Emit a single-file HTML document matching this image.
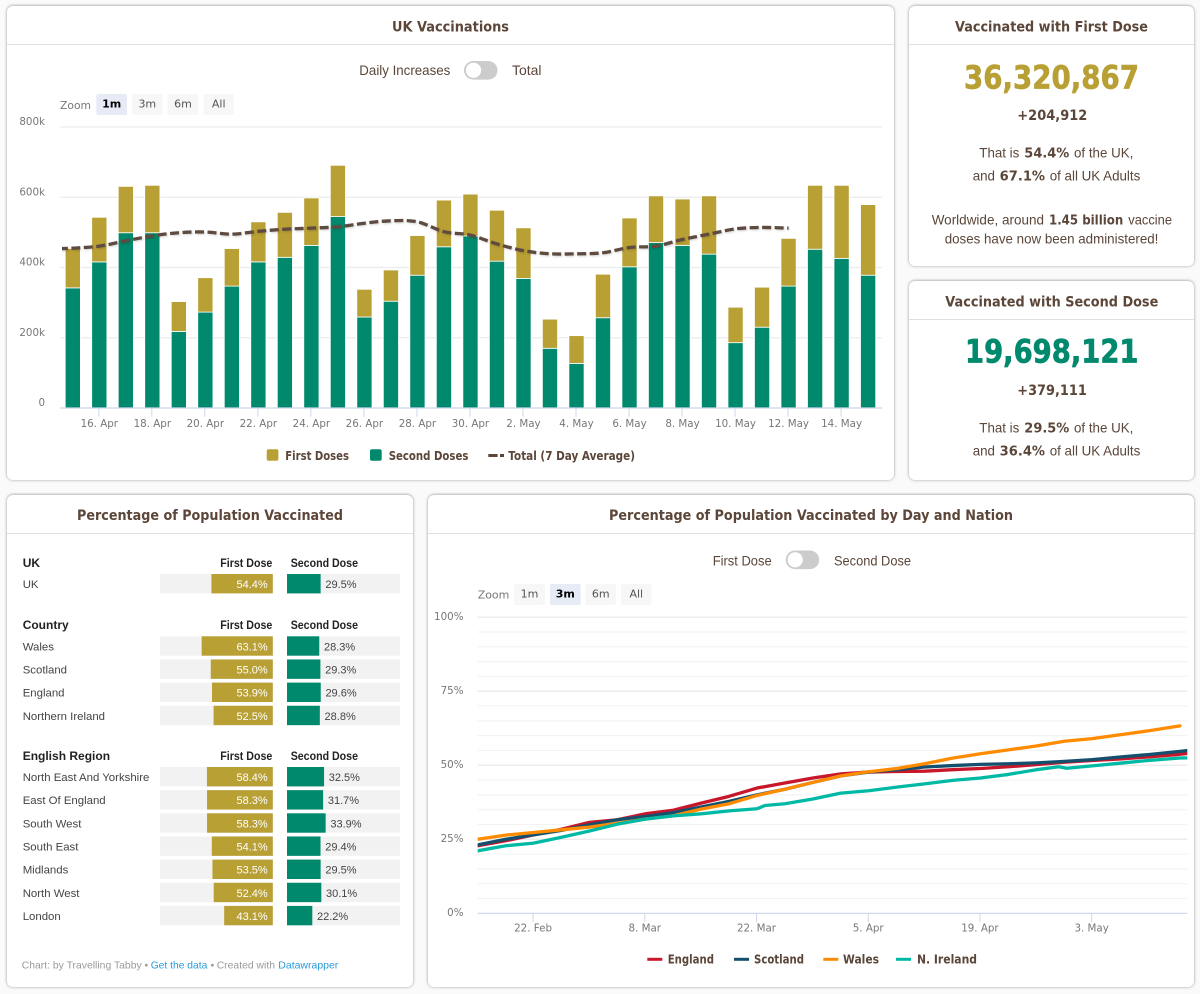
<!DOCTYPE html>
<html lang="en">
<head>
<meta charset="utf-8">
<title>UK Vaccinations Dashboard</title>
<style>
html,body{margin:0;padding:0;background:#fafafa;}
body{width:1200px;height:994px;position:relative;overflow:hidden;font-family:"Liberation Sans",sans-serif;}
.card{position:absolute;background:#fff;border-radius:6px;box-shadow:0 0 3px rgba(0,0,0,.32),0 -1px 2px rgba(0,0,0,.1);box-sizing:border-box;}
.head{position:absolute;left:0;right:0;height:1px;background:#e0e0e0;}
#page{position:absolute;left:0;top:0;}
.t{font-family:"DejaVu Sans",sans-serif;font-weight:bold;fill:#5b4639;font-size:14px;}
.r{font-family:"Liberation Sans",sans-serif;fill:#5b4639;font-size:14px;}
.b{font-family:"DejaVu Sans",sans-serif;font-weight:bold;fill:#5b4639;font-size:13px;}
.lg{font-family:"DejaVu Sans",sans-serif;font-weight:bold;fill:#5b4639;font-size:12px;}
.ax{font-family:"DejaVu Sans",sans-serif;fill:#777;font-size:10.3px;}
.zb{font-family:"DejaVu Sans",sans-serif;fill:#555;font-size:11px;text-anchor:middle;}
.tb{font-family:"Liberation Sans",sans-serif;font-size:12px;}
.nm{font-size:11.4px;}
</style>
</head>
<body>
<div class="card" style="left:7px;top:6px;width:887px;height:474px"><div class="head" style="top:38px"></div></div>
<div class="card" style="left:909px;top:6px;width:285px;height:260px"><div class="head" style="top:38px"></div></div>
<div class="card" style="left:909px;top:281px;width:285px;height:199px"><div class="head" style="top:38px"></div></div>
<div class="card" style="left:7px;top:495px;width:406px;height:492px"><div class="head" style="top:38px"></div></div>
<div class="card" style="left:428px;top:495px;width:766px;height:492px"><div class="head" style="top:38px"></div></div>

<svg id="page" width="1200" height="994" viewBox="0 0 1200 994" xmlns="http://www.w3.org/2000/svg">
<defs>
<clipPath id="avgClip"><rect x="62" y="120" width="820" height="290"/></clipPath>
<clipPath id="trendClip"><rect x="477.7" y="600" width="709.6" height="320"/></clipPath>
</defs>

<!-- Card titles -->
<text class="t" x="392" y="31.5" textLength="117" lengthAdjust="spacingAndGlyphs">UK Vaccinations</text>
<text class="t" x="955" y="31.5" textLength="193" lengthAdjust="spacingAndGlyphs">Vaccinated with First Dose</text>
<text class="t" x="945.3" y="306.3" textLength="213" lengthAdjust="spacingAndGlyphs">Vaccinated with Second Dose</text>
<text class="t" x="77" y="520" textLength="266" lengthAdjust="spacingAndGlyphs">Percentage of Population Vaccinated</text>
<text class="t" x="609" y="520" textLength="404" lengthAdjust="spacingAndGlyphs">Percentage of Population Vaccinated by Day and Nation</text>

<!-- First dose stats -->
<text x="964" y="88.3" textLength="175" lengthAdjust="spacingAndGlyphs" style="font:bold 32px 'DejaVu Sans',sans-serif;fill:#b9a035;stroke:#b9a035;stroke-width:.7">36,320,867</text>
<text class="b" x="1017.3" y="120" textLength="70" lengthAdjust="spacingAndGlyphs" style="font-size:14px">+204,912</text>
<g>
<text class="r" x="979.3" y="157.3" textLength="40" lengthAdjust="spacingAndGlyphs">That is</text>
<text class="b" x="1024.3" y="157.3" textLength="45" lengthAdjust="spacingAndGlyphs">54.4%</text>
<text class="r" x="1074" y="157.3" textLength="59.3" lengthAdjust="spacingAndGlyphs">of the UK,</text>
</g>
<g>
<text class="r" x="972.7" y="180.3" textLength="22.3" lengthAdjust="spacingAndGlyphs">and</text>
<text class="b" x="999.7" y="180.3" textLength="45.3" lengthAdjust="spacingAndGlyphs">67.1%</text>
<text class="r" x="1049.7" y="180.3" textLength="90.6" lengthAdjust="spacingAndGlyphs">of all UK Adults</text>
</g>
<g>
<text class="r" x="931.7" y="224.3" textLength="112.3" lengthAdjust="spacingAndGlyphs">Worldwide, around</text>
<text class="b" x="1049" y="224.3" textLength="74.3" lengthAdjust="spacingAndGlyphs">1.45 billion</text>
<text class="r" x="1128.3" y="224.3" textLength="43.7" lengthAdjust="spacingAndGlyphs">vaccine</text>
<text class="r" x="944.7" y="243.3" textLength="213.7" lengthAdjust="spacingAndGlyphs">doses have now been administered!</text>
</g>

<!-- Second dose stats -->
<text x="965" y="362.7" textLength="173.5" lengthAdjust="spacingAndGlyphs" style="font:bold 32px 'DejaVu Sans',sans-serif;fill:#00896c;stroke:#00896c;stroke-width:.7">19,698,121</text>
<text class="b" x="1017.3" y="395" textLength="69.5" lengthAdjust="spacingAndGlyphs" style="font-size:14px">+379,111</text>
<g>
<text class="r" x="979.3" y="432.3" textLength="40" lengthAdjust="spacingAndGlyphs">That is</text>
<text class="b" x="1024.3" y="432.3" textLength="45" lengthAdjust="spacingAndGlyphs">29.5%</text>
<text class="r" x="1074" y="432.3" textLength="59.3" lengthAdjust="spacingAndGlyphs">of the UK,</text>
</g>
<g>
<text class="r" x="972.7" y="455.3" textLength="22.3" lengthAdjust="spacingAndGlyphs">and</text>
<text class="b" x="999.7" y="455.3" textLength="45.3" lengthAdjust="spacingAndGlyphs">36.4%</text>
<text class="r" x="1049.7" y="455.3" textLength="90.6" lengthAdjust="spacingAndGlyphs">of all UK Adults</text>
</g>

<!-- Top toggle -->
<text class="r" x="359.3" y="75" textLength="91" lengthAdjust="spacingAndGlyphs">Daily Increases</text>
<g>
<rect x="464" y="61" width="33.5" height="18.6" rx="9.3" fill="#ccc"/>
<circle cx="473.5" cy="70.3" r="7.6" fill="#fff"/>
</g>
<text class="r" x="512" y="75" textLength="29.5" lengthAdjust="spacingAndGlyphs">Total</text>

<!-- Top zoom controls -->
<text class="ax" x="60" y="109" textLength="31" lengthAdjust="spacingAndGlyphs" style="font-size:11px">Zoom</text>
<g><rect x="96.3" y="94" width="30.7" height="21" rx="2" fill="#e6ebf5"/><text class="zb" x="111.7" y="107.5" style="font-weight:bold;fill:#000">1m</text></g>
<g><rect x="132" y="94" width="30.7" height="21" rx="2" fill="#f7f7f7"/><text class="zb" x="147.3" y="107.5">3m</text></g>
<g><rect x="167.7" y="94" width="30.7" height="21" rx="2" fill="#f7f7f7"/><text class="zb" x="183" y="107.5">6m</text></g>
<g><rect x="203.3" y="94" width="30.7" height="21" rx="2" fill="#f7f7f7"/><text class="zb" x="218.7" y="107.5">All</text></g>

<g id="barChart"></g>

<!-- Top legend -->
<g><rect x="266.7" y="449.3" width="11.7" height="11.4" rx="2" fill="#b9a035"/><text class="lg" x="285.3" y="460" textLength="63.7" lengthAdjust="spacingAndGlyphs">First Doses</text></g>
<g><rect x="370" y="449.3" width="11.7" height="11.4" rx="2" fill="#00896c"/><text class="lg" x="388.7" y="460" textLength="79.7" lengthAdjust="spacingAndGlyphs">Second Doses</text></g>
<g><line x1="488.3" y1="455.5" x2="504" y2="455.5" stroke="#5b4639" stroke-width="3" stroke-dasharray="9.3 2.4"/><text class="lg" x="508.3" y="460" textLength="126.7" lengthAdjust="spacingAndGlyphs">Total (7 Day Average)</text></g>

<g id="table"></g>

<!-- Table footer -->
<g style="font:10.5px 'Liberation Sans',sans-serif">
<text x="21.7" y="968.7" fill="#9a9a9a" textLength="120" lengthAdjust="spacingAndGlyphs">Chart: by Travelling Tabby</text>
<text x="144.5" y="968.7" fill="#9a9a9a">•</text>
<text x="150.7" y="968.7" fill="#2a9bd8" textLength="56.6" lengthAdjust="spacingAndGlyphs">Get the data</text>
<text x="210.5" y="968.7" fill="#9a9a9a">•</text>
<text x="216.7" y="968.7" fill="#9a9a9a" textLength="58.3" lengthAdjust="spacingAndGlyphs">Created with</text>
<text x="278.3" y="968.7" fill="#2a9bd8" textLength="60" lengthAdjust="spacingAndGlyphs">Datawrapper</text>
</g>

<!-- Bottom toggle -->
<text class="r" x="712.7" y="565.7" textLength="59" lengthAdjust="spacingAndGlyphs">First Dose</text>
<g>
<rect x="785.7" y="550.5" width="33.5" height="18.6" rx="9.3" fill="#ccc"/>
<circle cx="795.2" cy="559.8" r="7.6" fill="#fff"/>
</g>
<text class="r" x="834" y="565.7" textLength="77" lengthAdjust="spacingAndGlyphs">Second Dose</text>

<!-- Bottom zoom controls -->
<text class="ax" x="477.7" y="598.3" textLength="31.6" lengthAdjust="spacingAndGlyphs" style="font-size:11px">Zoom</text>
<g><rect x="514" y="584" width="31" height="21" rx="2" fill="#f7f7f7"/><text class="zb" x="529.5" y="597.5">1m</text></g>
<g><rect x="550" y="584" width="30.7" height="21" rx="2" fill="#e6ebf5"/><text class="zb" x="565.3" y="597.5" style="font-weight:bold;fill:#000">3m</text></g>
<g><rect x="585.3" y="584" width="30.7" height="21" rx="2" fill="#f7f7f7"/><text class="zb" x="600.7" y="597.5">6m</text></g>
<g><rect x="621" y="584" width="30.7" height="21" rx="2" fill="#f7f7f7"/><text class="zb" x="636.3" y="597.5">All</text></g>

<g id="trendChart"></g>

<!-- Bottom legend -->
<g><line x1="647.3" y1="959.3" x2="662.3" y2="959.3" stroke="#c8172b" stroke-width="3"/><text class="lg" x="667.7" y="963.3" textLength="46.3" lengthAdjust="spacingAndGlyphs">England</text></g>
<g><line x1="734" y1="959.3" x2="749" y2="959.3" stroke="#14506e" stroke-width="3"/><text class="lg" x="754" y="963.3" textLength="50" lengthAdjust="spacingAndGlyphs">Scotland</text></g>
<g><line x1="823.3" y1="959.3" x2="838.3" y2="959.3" stroke="#ff8c00" stroke-width="3"/><text class="lg" x="843" y="963.3" textLength="36" lengthAdjust="spacingAndGlyphs">Wales</text></g>
<g><line x1="896" y1="959.3" x2="911" y2="959.3" stroke="#00b9a5" stroke-width="3"/><text class="lg" x="917" y="963.3" textLength="60" lengthAdjust="spacingAndGlyphs">N. Ireland</text></g>
</svg>

<script>
// ---- Daily vaccinations chart data (thousands of doses) ----
const barDates = ['15. Apr','16. Apr','17. Apr','18. Apr','19. Apr','20. Apr','21. Apr','22. Apr','23. Apr','24. Apr','25. Apr','26. Apr','27. Apr','28. Apr','29. Apr','30. Apr','1. May','2. May','3. May','4. May','5. May','6. May','7. May','8. May','9. May','10. May','11. May','12. May','13. May','14. May','15. May'];
const secondDoses = [342,416,499,499,218,273,347,416,429,463,545,259,304,378,459,490,418,369,170,127,257,402,471,463,438,186,230,347,452,426,378];
const firstDoses = [112,127,132,135,85,98,107,114,128,135,146,79,89,113,133,119,145,144,83,79,124,139,133,132,166,101,114,136,182,208,201];
const averageDates = ['14. Apr','15. Apr','16. Apr','17. Apr','18. Apr','19. Apr','20. Apr','21. Apr','22. Apr','23. Apr','24. Apr','25. Apr','26. Apr','27. Apr','28. Apr','29. Apr','30. Apr','1. May','2. May','3. May','4. May','5. May','6. May','7. May','8. May','9. May','10. May','11. May','12. May'];
const averageTotals = [453,455,461,476,490,499,501,495,503,509,512,516,526,533,530,502,492,467,448,439,439,442,457,461,480,495,510,514,512];
const barTickLabels = ['16. Apr','18. Apr','20. Apr','22. Apr','24. Apr','26. Apr','28. Apr','30. Apr','2. May','4. May','6. May','8. May','10. May','12. May','14. May'];
const barYTicks = [0,200,400,600,800];

// ---- Population table data (percent) ----
const sectionTitles = ['UK','Country','English Region'];
const sectionRows = [['UK'],['Wales','Scotland','England','Northern Ireland'],['North East And Yorkshire','East Of England','South West','South East','Midlands','North West','London']];
const sectionFirst = [[54.4],[63.1,55.0,53.9,52.5],[58.4,58.3,58.3,54.1,53.5,52.4,43.1]];
const sectionSecond = [[29.5],[28.3,29.3,29.6,28.8],[32.5,31.7,33.9,29.4,29.5,30.1,22.2]];

// ---- Nation trend data (days since 15 Feb, percent vaccinated) ----
const trendDays = [0,3.5,7,10.5,14,17.5,21,24.5,28,31.5,35,38.5,42,45.5,49,52.5,56,59.5,63,66.5,70,73.5,77,80.5,84,88,89];
const englandValues = [22.8,24.5,26.5,28.4,30.7,31.6,33.6,34.8,37.2,39.5,42.3,44.0,45.7,47.1,47.7,47.9,48.0,48.5,48.9,49.5,50.2,51.0,51.6,52.1,52.8,53.7,54.0];
const scotlandValues = [23.1,25,26.5,28,29.9,31.6,32.7,34,35.9,37.8,40,41.9,44.2,46.4,47.7,48.5,49.4,49.9,50.3,50.5,50.8,51.3,51.9,52.8,53.6,54.7,55.0];
const walesValues = [25,26.4,27.3,28.2,29.1,30.4,31.8,32.9,35.2,37,39.8,41.9,44.2,46.4,47.8,48.9,50.5,52.4,53.9,55.2,56.5,58.1,59,60.3,61.6,63.3];
const irelandDays = [0,3.5,7,10.5,14,17.5,21,24.5,28,31.5,35,36,38.5,42,45.5,49,52.5,56,59.5,63,66.5,70,72.8,73.8,77,80.5,84,88,89];
const irelandValues = [21.1,22.8,23.7,25.7,27.8,30.1,31.8,32.9,33.6,34.6,35.3,36.4,37,38.6,40.6,41.4,42.6,43.7,44.9,45.7,46.9,48.5,49.5,49.0,49.8,50.7,51.6,52.45,52.5];
const trendTickDays = [7,21,35,49,63,77];
const trendTickLabels = ['22. Feb','8. Mar','22. Mar','5. Apr','19. Apr','3. May'];
const trendYLabels = [0,25,50,75,100];

const NS = 'http://www.w3.org/2000/svg';
function mk(tag, attrs, parent, txt) {
  const el = document.createElementNS(NS, tag);
  for (const k in attrs) el.setAttribute(k, attrs[k]);
  if (txt !== undefined) el.textContent = txt;
  parent.appendChild(el);
  return el;
}

// ---- Axis functions ----
const xBar = i => 72.8 + i * 26.51;
const yBar = v => 408 - v * 281 / 800;
const xTrend = d => 477.7 + d * 7.98;
const yTrend = p => 913.3 - p * 2.961;

// ---- Bar chart ----
(function () {
  const g = document.getElementById('barChart');
  barYTicks.forEach(t => {
    if (t > 0) {
      const grid = mk('line', {x1:60, x2:882, y1:yBar(t), y2:yBar(t), stroke:'#ececec', 'stroke-width':1.2}, g);
      
      
    }
    const lab = mk('text', {class:'ax', x:45, y:yBar(t)-2, 'text-anchor':'end'}, g, t === 0 ? '0' : t + 'k');
    
    
  });
  barTickLabels.forEach(l => {
    const x = xBar(barDates.indexOf(l)) - 0.5;
    const tick = mk('line', {x1:x, x2:x, y1:408, y2:416.7, stroke:'#ccd6eb', 'stroke-width':1}, g);
    
    
    const lab = mk('text', {class:'ax', x:x+0.5, y:427, 'text-anchor':'middle'}, g, l);
    
    
  });
  barDates.forEach((d, i) => {
    const x = xBar(i) - 7.6;
    const g2 = yBar(secondDoses[i]);
    const g1 = yBar(secondDoses[i] + firstDoses[i]);
    const s = mk('rect', {x:x, y:g2, width:15.2, height:408-g2, fill:'#00896c', stroke:'#fff', 'stroke-width':0.8}, g);
    
    
    const f = mk('rect', {x:x, y:g1, width:15.2, height:g2-g1, fill:'#b9a035', stroke:'#fff', 'stroke-width':0.8}, g);
    
    
  });
  const axis = mk('line', {x1:60, x2:882, y1:408, y2:408, stroke:'#ccd6eb', 'stroke-width':1.2}, g);
  
  

  // Smoothed average line
  const pts = averageTotals.map((v, i) => [xBar(i - 1), yBar(v)]);
  let d = 'M' + pts[0][0] + ' ' + pts[0][1];
  for (let i = 0; i < pts.length - 1; i++) {
    const p0 = pts[Math.max(i-1,0)], p1 = pts[i], p2 = pts[i+1], p3 = pts[Math.min(i+2,pts.length-1)];
    const c1x = p1[0] + (p2[0]-p0[0])/6, c1y = p1[1] + (p2[1]-p0[1])/6;
    const c2x = p2[0] - (p3[0]-p1[0])/6, c2y = p2[1] - (p3[1]-p1[1])/6;
    d += ' C' + c1x + ' ' + c1y + ' ' + c2x + ' ' + c2y + ' ' + p2[0] + ' ' + p2[1];
  }
  const wrap = mk('g', {'clip-path':'url(#avgClip)'}, g);
  
  
  const line = mk('path', {d:d, fill:'none', stroke:'#5f4a40', 'stroke-width':3.3, 'stroke-dasharray':'9 3.5', style:'filter:drop-shadow(1px 1px 1px rgba(0,0,0,.18))'}, wrap);
  
  
})();

// ---- Population table ----
(function () {
  const g = document.getElementById('table');
  const sectionTop = [574, 636.3, 767];
  const pitch = 23.15;
  const rowH = 19.4;
  sectionTitles.forEach((title, s) => {
    const base = sectionTop[s] - 7.2;
    const h1 = mk('text', {class:'tb', x:22.7, y:base, 'font-weight':'bold', fill:'#222'}, g, title);
    
    
    const h2 = mk('text', {class:'tb', x:220.3, y:base, 'font-weight':'bold', fill:'#222', textLength:52, lengthAdjust:'spacingAndGlyphs'}, g, 'First Dose');
    
    
    const h3 = mk('text', {class:'tb', x:290.7, y:base, 'font-weight':'bold', fill:'#222', textLength:67.3, lengthAdjust:'spacingAndGlyphs'}, g, 'Second Dose');
    
    
    sectionRows[s].forEach((name, i) => {
      const top = sectionTop[s] + i * pitch;
      const a = sectionFirst[s][i], b = sectionSecond[s][i];
      const lab = mk('text', {class:'tb nm', x:22.7, y:top+14, fill:'#444'}, g, name);
      
      
      const t1 = mk('rect', {x:160, y:top, width:113, height:rowH, fill:'#f2f2f2'}, g);
      
      
      const w1 = a * 1.128;
      const b1 = mk('rect', {x:272.8-w1, y:top, width:w1, height:rowH, fill:'#b9a035'}, g);
      
      
      const v1 = mk('text', {class:'tb', x:267.7, y:top+14, 'text-anchor':'end', fill:'#fff', style:'font-size:11px'}, g, a.toFixed(1) + '%');
      
      
      const t2 = mk('rect', {x:287, y:top, width:113, height:rowH, fill:'#f2f2f2'}, g);
      
      
      const w2 = b * 1.14;
      const b2 = mk('rect', {x:287, y:top, width:w2, height:rowH, fill:'#00896c'}, g);
      
      
      const v2 = mk('text', {class:'tb', x:287+w2+4.7, y:top+14, fill:'#444', style:'font-size:11px'}, g, b.toFixed(1) + '%');
      
      
    });
  });
})();

// ---- Nation trend chart ----
(function () {
  const g = document.getElementById('trendChart');
  for (let p = 5; p <= 100; p += 5) {
    const major = p % 25 === 0;
    const grid = mk('line', {x1:477.7, x2:1187.3, y1:yTrend(p), y2:yTrend(p), stroke: major ? '#e8e8e8' : '#f3f3f3', 'stroke-width':1.2}, g);
    
    
  }
  trendYLabels.forEach(p => {
    const lab = mk('text', {class:'ax', x:463.5, y:yTrend(p)+2.8, 'text-anchor':'end'}, g, p + '%');
    
    
  });
  trendTickDays.forEach((d, i) => {
    const x = xTrend(d) - 0.5;
    const tick = mk('line', {x1:x, x2:x, y1:913.3, y2:922, stroke:'#ccd6eb', 'stroke-width':1}, g);
    
    
    const lab = mk('text', {class:'ax', x:x, y:931.7, 'text-anchor':'middle'}, g, trendTickLabels[i]);
    
    
  });
  const axis = mk('line', {x1:477.7, x2:1187.3, y1:913.3, y2:913.3, stroke:'#ccd6eb', 'stroke-width':1.2}, g);
  
  
  const wrap = mk('g', {'clip-path':'url(#trendClip)'}, g);
  
  
  function path(days, vals) {
    return vals.map((v, i) => (i ? 'L' : 'M') + xTrend(days[i]) + ' ' + yTrend(v)).join(' ');
  }
  const common = {fill:'none', 'stroke-width':3.3, 'stroke-linejoin':'round', 'stroke-linecap':'round'};
  const eng = mk('path', Object.assign({d:path(trendDays, englandValues), stroke:'#c8172b'}, common), wrap);
  
  
  const sco = mk('path', Object.assign({d:path(trendDays, scotlandValues), stroke:'#14506e'}, common), wrap);
  
  
  const wal = mk('path', Object.assign({d:path(trendDays, walesValues), stroke:'#ff8c00'}, common), wrap);
  
  
  const ire = mk('path', Object.assign({d:path(irelandDays, irelandValues), stroke:'#00b9a5'}, common), wrap);
  
  
})();
</script>
</body>
</html>
